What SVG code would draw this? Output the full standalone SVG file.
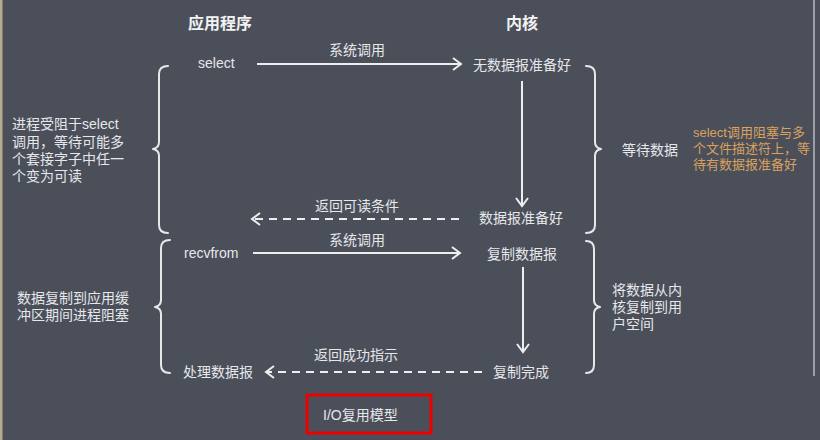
<svg xmlns="http://www.w3.org/2000/svg" width="820" height="440" viewBox="0 0 820 440">
<style>
text{font-family:"Liberation Sans","Noto Sans CJK SC",sans-serif;fill:#e6e7ea;font-size:14px}
.h{font-weight:bold;font-size:16px;fill:#f2f2f2}
.m{text-anchor:middle}
.o{fill:#d9a25e;font-size:13px}
.ln{stroke:#eeeeee;stroke-width:2;fill:none}
.d{stroke-dasharray:8 6}
.br{stroke:#e8e8e8;stroke-width:2;fill:none;stroke-linecap:round;stroke-linejoin:round}
</style>
<defs>
<marker id="ah" markerWidth="12" markerHeight="14" refX="10" refY="7" orient="auto" markerUnits="userSpaceOnUse">
<path d="M2,1 L10,7 L2,13" fill="none" stroke="#eeeeee" stroke-width="2"/>
</marker>
</defs>
<rect x="0" y="0" width="820" height="440" fill="#4b4f5a"/>
<rect x="0" y="0" width="2.5" height="440" fill="#b6aa90"/>
<rect x="813" y="0" width="2" height="376" fill="#9a9ea8"/>

<g id="headers">
<text class="h m" x="220" y="29">应用程序</text>
<text class="h m" x="522" y="29">内核</text>
</g>

<g id="connectors">
<line class="ln" x1="257" y1="64" x2="461" y2="64" marker-end="url(#ah)"/>
<line class="ln" x1="522" y1="81" x2="522" y2="206" marker-end="url(#ah)"/>
<line class="ln d" x1="459" y1="219" x2="252" y2="219" marker-end="url(#ah)"/>
<line class="ln" x1="253" y1="253" x2="460" y2="253" marker-end="url(#ah)"/>
<line class="ln" x1="523" y1="267" x2="523" y2="352" marker-end="url(#ah)"/>
<line class="ln d" x1="482" y1="372" x2="266" y2="372" marker-end="url(#ah)"/>
<text class="m" x="357" y="55">系统调用</text>
<text class="m" x="357" y="211">返回可读条件</text>
<text class="m" x="357" y="245">系统调用</text>
<text class="m" x="356" y="360">返回成功指示</text>
</g>

<g id="n-select"><text x="198" y="68">select</text></g>
<g id="n-nodata"><text class="m" x="522" y="70">无数据报准备好</text></g>
<g id="n-ready"><text class="m" x="521" y="223">数据报准备好</text></g>
<g id="n-recvfrom"><text x="184" y="258">recvfrom</text></g>
<g id="n-copy"><text class="m" x="522" y="259">复制数据报</text></g>
<g id="n-done"><text class="m" x="521" y="377">复制完成</text></g>
<g id="n-process"><text x="183" y="377">处理数据报</text></g>

<g id="braces">
<path class="br" d="M168,66 Q159,66 159,74 L159,142 Q159,148 153,149 Q159,150 159,156 L159,225 Q159,233 168,233"/>
<path class="br" d="M170,240 Q161,240 161,248 L161,300 Q161,306 155,307 Q161,308 161,314 L161,365 Q161,373 170,373"/>
<path class="br" d="M586,66 Q595,66 595,74 L595,142 Q595,148 601,149 Q595,150 595,156 L595,225 Q595,233 586,233"/>
<path class="br" d="M586,241 Q594,241 594,249 L594,300 Q594,306 600,307 Q594,308 594,314 L594,365 Q594,373 586,373"/>
</g>

<g id="note-left1">
<text x="12" y="129">进程受阻于select</text>
<text x="12" y="147">调用，等待可能多</text>
<text x="12" y="164">个套接字子中任一</text>
<text x="12" y="181">个变为可读</text>
</g>
<g id="note-left2">
<text x="17" y="303">数据复制到应用缓</text>
<text x="17" y="320">冲区期间进程阻塞</text>
</g>
<g id="note-wait"><text x="622" y="155">等待数据</text></g>
<g id="note-orange">
<text class="o" x="693" y="137">select调用阻塞与多</text>
<text class="o" x="693" y="153">个文件描述符上，等</text>
<text class="o" x="693" y="169">待有数据报准备好</text>
</g>
<g id="note-copy">
<text x="612" y="295">将数据从内</text>
<text x="612" y="312">核复制到用</text>
<text x="612" y="329">户空间</text>
</g>

<g id="title">
<rect x="307" y="395" width="124" height="38" fill="none" stroke="#ee0000" stroke-width="3"/>
<text x="323" y="420">I/O复用模型</text>
</g>
</svg>
